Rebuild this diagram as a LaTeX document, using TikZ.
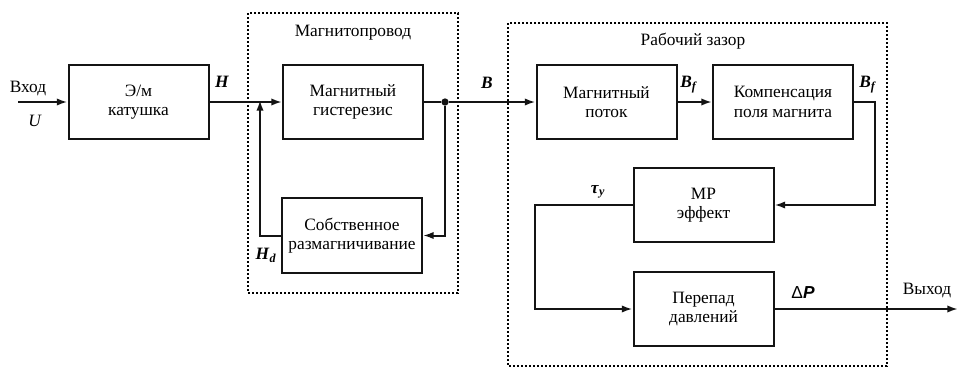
\documentclass[tikz,border=0pt]{standalone}
\usepackage{fontspec}
\setmainfont{Liberation Serif}
\newfontfamily\sansfnt{Liberation Sans}
\usetikzlibrary{arrows.meta}
\definecolor{lblack}{RGB}{20,20,20}

\begin{document}
\begin{tikzpicture}[x=0.75pt,y=-0.75pt,
  blok/.style={draw=lblack, line width=1.5pt, minimum width=105pt, minimum height=56pt,
    align=center, inner sep=0pt, font=\fontsize{13}{14.5}\selectfont},
  pil/.style={line width=1.5pt, color=lblack, -{Latex[length=8pt,width=5.5pt]}},
  lin/.style={line width=1.5pt, color=lblack},
  ramka/.style={line width=2.2pt, color=black, dash pattern=on 1.5pt off 1.5pt},
  txt/.style={inner sep=0pt, font=\fontsize{13}{14.5}\selectfont}]
\useasboundingbox (0,0) rectangle (961,368);

%blocks
\node[blok] (kat) at (138.5,102) {Э/м\\катушка};
\node[blok] (gist) at (353,102) {Магнитный\\гистерезис};
\node[blok] (sobst) at (352,235.5) {Собственное\\размагничивание};
\node[blok] (potok) at (606.5,102) {Магнитный\\поток};
\node[blok] (komp) at (783,102) {Компенсация\\поля магнита};
\node[blok] (mr) at (703.5,205) {МР\\эффект};
\node[blok] (perepad) at (703.5,309) {Перепад\\давлений};

%frames
\draw[ramka] (248,13) rectangle (458,293);
\draw[ramka] (508,23) rectangle (887,366);
\node[txt] (tmag) at (353,33) {Магнитопровод};
\node[txt] (trab) at (693,41) {Рабочий зазор};

%points
\coordinate (vhod) at (18,102);
\coordinate (hdup) at (260,102);
\coordinate (bfdown) at (875,102);
\coordinate (tauleft) at (535,205);
\coordinate (vyhod) at (958,309);
\node[circle, fill=lblack, inner sep=0pt, minimum size=5.5pt] (tochka) at (445,102) {};

%connectors
\draw[pil] (vhod) -- (kat.west);
\draw[pil] (kat.east) -- (gist.west);
\draw[lin] (gist.east) -- (tochka);
\draw[pil] (tochka) -- (potok.west);
\draw[pil] (tochka) |- (sobst.east);
\draw[pil] (sobst.west) -| ([yshift=1.5]hdup);
\draw[pil] (potok.east) -- (komp.west);
\draw[pil] (komp.east) -- (bfdown) |- (mr.east);
\draw[pil] (mr.west) -- (tauleft) |- (perepad.west);
\draw[pil] (perepad.east) -- (vyhod);

%labels
\node[txt] (lvhod) at (28,88) {Вход};
\node[txt] (lu) at (35,121) {\textit{U}};
\node[txt] (lh) at (222,82) {\textbf{\textit{H}}};
\node[txt] (lhd) at (266,255) {\textbf{\textit{H}}\textsubscript{\textbf{\textit{d}}}};
\node[txt] (lb) at (487,83) {\textbf{\textit{B}}};
\node[txt] (lbf1) at (689,85) {\textbf{\textit{B}}\textsubscript{\textbf{\textit{f}}}};
\node[txt] (lbf2) at (868,85) {\textbf{\textit{B}}\textsubscript{\textbf{\textit{f}}}};
\node[txt] (ltau) at (598,192) {\textbf{\textit{τ}}\textsubscript{\textbf{\textit{y}}}};
\node[txt] (ldp) at (803,293) {{\sansfnt Δ\textbf{\textit{P}}}};
\node[txt] (lvyhod) at (927,290) {Выход};

\end{tikzpicture}
\end{document}
